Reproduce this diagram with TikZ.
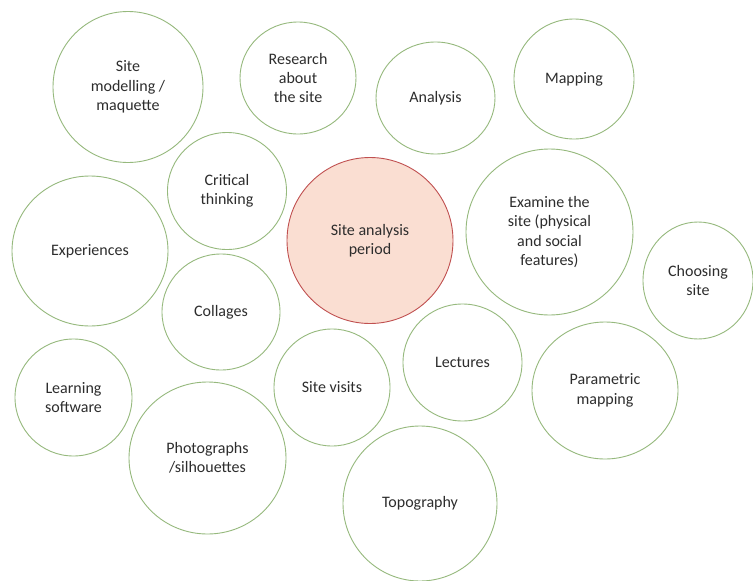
\documentclass[tikz,border=0pt]{standalone}
\usepackage{fontspec}
\setmainfont{Carlito}
\usetikzlibrary{shapes.geometric}
\definecolor{ringgreen}{RGB}{150,185,125}
\definecolor{ringred}{RGB}{192,80,80}
\definecolor{fillred}{RGB}{250,222,210}
\definecolor{txt}{RGB}{45,45,45}
\tikzset{
  bubble/.style n args={2}{ellipse, draw=ringgreen, line width=0.9pt, fill=white,
    minimum width=#1pt, minimum height=#2pt, inner sep=0pt, align=center,
    text=txt, font=\fontsize{16}{19.3}\selectfont},
  core/.style={bubble={166}{166}, draw=ringred, fill=fillred}
}
\begin{document}
\begin{tikzpicture}[x=1pt,y=-1pt]
\useasboundingbox[fill=white] (0,0) rectangle (753,581);
\node[bubble={150}{151}] (model) at (128,87) {Site\\modelling /\\maquette};
\node[bubble={116}{112}] (research) at (298,78) {Research\\about\\the site};
\node[bubble={119}{112}] (analysis) at (435.5,98) {Analysis};
\node[bubble={120}{120}] (mapping) at (574,79) {Mapping};
\node[bubble={119}{117}] (critical) at (227,191) {Critical\\thinking};
\node[core] (core) at (370,240.5) {Site analysis\\period};
\node[bubble={167}{166}] (examine) at (549.5,232) {Examine the\\site (physical\\and social\\features)};
\node[bubble={156}{150}] (exp) at (90,251) {Experiences};
\node[bubble={110}{117}] (choose) at (698,280.5) {Choosing\\site};
\node[bubble={118}{116}] (collages) at (221,312) {Collages};
\node[bubble={117}{117}] (learn) at (73.5,397.5) {Learning\\software};
\node[bubble={116}{117}] (visits) at (332,387.5) {Site visits};
\node[bubble={119}{117}] (lectures) at (462.5,362.5) {Lectures};
\node[bubble={146}{137}] (param) at (605,390.5) {Parametric\\mapping};
\node[bubble={157}{152}] (photo) at (207.5,458) {Photographs\\/silhouettes};
\node[bubble={154}{155}] (topo) at (420,503.5) {Topography};
\end{tikzpicture}
\end{document}
